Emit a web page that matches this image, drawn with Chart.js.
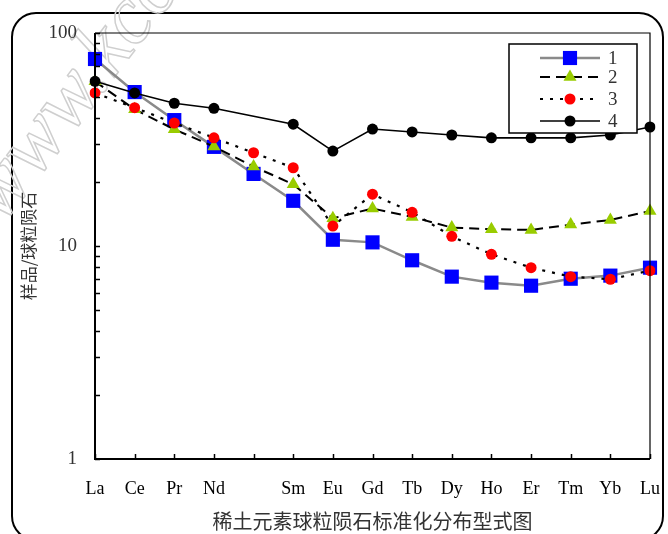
<!DOCTYPE html>
<html><head><meta charset="utf-8">
<script src="https://cdn.jsdelivr.net/npm/chart.js@4/dist/chart.umd.min.js"></script>
<style>html,body{margin:0;padding:0;background:#fff;}#wrap{width:668px;height:534px;position:relative;}</style>
</head><body><div id="wrap"><canvas id="c" width="668" height="534"></canvas></div>
<script>
const elements = ['La','Ce','Pr','Nd','','Sm','Eu','Gd','Tb','Dy','Ho','Er','Tm','Yb','Lu'];
const series1 = [75.5,52.8,39.0,29.2,21.8,16.3,10.7,10.4,8.57,7.18,6.73,6.51,7.02,7.26,7.91];
const series2 = [59.3,43.8,35.3,29.3,23.6,19.5,13.5,15.0,13.7,12.2,12.0,11.9,12.6,13.25,14.6];
const series3 = [52.3,44.6,37.8,32.2,27.4,23.3,12.4,17.5,14.4,11.1,9.14,7.91,7.18,6.98,7.66];
const series4 = [59.3,52.3,46.8,44.3,null,37.3,27.9,35.4,34.3,33.2,32.2,32.2,32.2,33.2,36.2];
const seriesNames = ['1','2','3','4'];
const yTickValues = [1,2,3,4,5,6,7,8,9,10,20,30,40,50,60,70,80,90,100];
const yTickLabels = [1,10,100];
const xTitle = '稀土元素球粒陨石标准化分布型式图';
const yTitle = '样品/球粒陨石';
const watermark = 'www.kcom';

const serif = "'Liberation Serif','DejaVu Serif',serif";
const cjk = "'Noto Sans CJK SC','Noto Sans',sans-serif";

const styles = [
  {borderColor:'#8a8a8a', borderWidth:2.5, borderDash:[], pointStyle:'rect', pointRadius:10, pointBackgroundColor:'#0000ff', order:4},
  {borderColor:'#000', borderWidth:2, borderDash:[10,6], pointStyle:'triangle', pointRadius:7.5, pointBackgroundColor:'#99cc00', order:3},
  {borderColor:'#000', borderWidth:2.2, borderDash:[3,7], pointStyle:'circle', pointRadius:5.5, pointBackgroundColor:'#ff0000', order:2},
  {borderColor:'#000', borderWidth:1.6, borderDash:[], pointStyle:'circle', pointRadius:5.5, pointBackgroundColor:'#000', order:1}
];
const allSeries = [series1, series2, series3, series4];

const datasets = allSeries.map((d,i)=>({
  label: seriesNames[i], data: d, spanGaps:true, tension:0,
  borderColor: styles[i].borderColor, borderWidth: styles[i].borderWidth, borderDash: styles[i].borderDash,
  pointStyle: styles[i].pointStyle, pointRadius: styles[i].pointRadius, pointHoverRadius: styles[i].pointRadius,
  pointBackgroundColor: styles[i].pointBackgroundColor, pointBorderColor: styles[i].pointBackgroundColor,
  pointBorderWidth: 0, order: styles[i].order, fill:false
}));

const decor = {
  id:'decor',
  beforeDraw(chart){
    const ctx = chart.ctx;
    ctx.save();
    ctx.fillStyle='#fff'; ctx.fillRect(0,0,chart.width,chart.height);
    ctx.strokeStyle='#000'; ctx.lineWidth=2;
    ctx.beginPath();
    if (ctx.roundRect) ctx.roundRect(12,13,651,527,24); else ctx.rect(12,13,651,527);
    ctx.stroke();
    ctx.translate(2,225);
    ctx.rotate(-0.92);
    ctx.font = "italic 84px " + serif;
    ctx.strokeStyle = '#cfcfcf'; ctx.lineWidth = 1.5;
    ctx.strokeText(watermark, 0, 0);
    ctx.restore();
  },
  afterDraw(chart){
    const ctx = chart.ctx, a = chart.chartArea;
    const xs = chart.scales.x, ys = chart.scales.y;
    ctx.save();
    ctx.strokeStyle='#000';
    ctx.lineWidth=1.2;
    ctx.beginPath(); ctx.moveTo(a.left,a.top); ctx.lineTo(a.right,a.top); ctx.lineTo(a.right,a.bottom); ctx.stroke();
    ctx.lineWidth=2;
    ctx.beginPath(); ctx.moveTo(a.left,a.top); ctx.lineTo(a.left,a.bottom); ctx.lineTo(a.right,a.bottom); ctx.stroke();
    ctx.lineWidth=1.5;
    ys.ticks.forEach(t=>{
      const y = Math.round(ys.getPixelForValue(t.value))+0.5;
      ctx.beginPath(); ctx.moveTo(a.left,y); ctx.lineTo(a.left+5,y); ctx.stroke();
    });
    xs.ticks.forEach((t,i)=>{
      const x = Math.round(xs.getPixelForTick(i))+0.5;
      ctx.beginPath(); ctx.moveTo(x,a.bottom); ctx.lineTo(x,a.bottom-5); ctx.stroke();
    });
    const lx=509, ly=44, lw=128, lh=89;
    ctx.fillStyle='#fff'; ctx.fillRect(lx,ly,lw,lh);
    ctx.lineWidth=1.5; ctx.strokeStyle='#000'; ctx.strokeRect(lx,ly,lw,lh);
    const rows=[58,77,99,121];
    chart.data.datasets.forEach((ds,i)=>{
      const y=rows[i];
      ctx.save();
      ctx.strokeStyle=ds.borderColor; ctx.lineWidth=ds.borderWidth; ctx.setLineDash(ds.borderDash);
      ctx.beginPath(); ctx.moveTo(540,y); ctx.lineTo(600,y); ctx.stroke();
      ctx.setLineDash([]);
      ctx.fillStyle=ds.pointBackgroundColor; ctx.strokeStyle=ds.pointBackgroundColor;
      Chart.helpers.drawPoint(ctx,{pointStyle:ds.pointStyle,radius:ds.pointRadius,rotation:0,borderWidth:0},570,y);
      ctx.restore();
      ctx.fillStyle='#333'; ctx.font="19px "+serif; ctx.textAlign='left'; ctx.textBaseline='middle';
      ctx.fillText(ds.label,608,y+1);
    });
    ctx.restore();
  }
};

new Chart(document.getElementById('c'),{
  type:'line',
  data:{labels:elements, datasets},
  options:{
    responsive:false, animation:false, devicePixelRatio:1,
    layout:{padding:{left:0,right:18,top:33,bottom:0}},
    plugins:{legend:{display:false}, tooltip:{enabled:false}},
    scales:{
      x:{
        type:'category', offset:false,
        grid:{display:false, drawTicks:false}, border:{display:false},
        ticks:{autoSkip:false, maxRotation:0, padding:19, color:'#000', font:{family:serif,size:18}},
        title:{display:true, text:xTitle, color:'#333', font:{family:cjk,size:20,lineHeight:1.2}, padding:{top:0,bottom:1}},
        afterFit(s){ s.height = 75; s.paddingLeft = 0; s.paddingRight = 0; }
      },
      y:{
        type:'logarithmic', min:1, max:100,
        afterBuildTicks(s){ s.ticks = yTickValues.map(v=>({value:v})); },
        grid:{display:false, drawTicks:false}, border:{display:false},
        ticks:{autoSkip:false, padding:18, color:'#333', font:{family:serif,size:19},
          callback:(v)=> yTickLabels.includes(v) ? String(v) : ''},
        title:{display:true, text:yTitle, color:'#333', font:{family:cjk,size:17,lineHeight:1.2}, padding:{top:18,bottom:0}},
        afterFit(s){ s.width = 95; s.paddingTop = 0; s.paddingBottom = 0; }
      }
    }
  },
  plugins:[decor]
});
</script></body></html>
